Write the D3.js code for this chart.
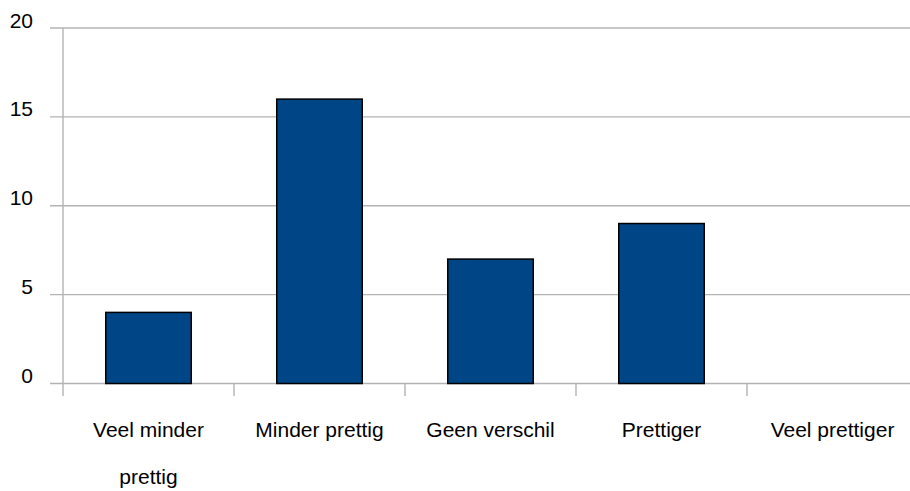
<!DOCTYPE html>
<html>
<head>
<meta charset="utf-8">
<script src="https://cdn.jsdelivr.net/npm/d3@7"></script>
<style>
  html, body { margin: 0; padding: 0; background: #fff; }
  svg { display: block; font-family: "Liberation Sans", Arial, sans-serif; }
</style>
</head>
<body>
<svg id="chart" width="910" height="491"></svg>
<script>
const categories = ["Veel minder prettig", "Minder prettig", "Geen verschil", "Prettiger", "Veel prettiger"];
const values = [4, 16, 7, 9, 0];
const yTicks = [0, 5, 10, 15, 20];

(function () {
const svg = d3.select("#chart");
const W = 910, H = 491;
const plotLeft = 63, plotRight = 918, plotTop = 28, plotBottom = 383.5;

const x = d3.scaleBand().domain(categories).range([plotLeft, plotRight]).paddingInner(0.5).paddingOuter(0.25);
const y = d3.scaleLinear().domain([0, 20]).range([plotBottom, plotTop]);

const grid = "#b3b3b3";

// gridlines
svg.append("g").selectAll("line").data(yTicks).join("line")
  .attr("x1", 50).attr("x2", W)
  .attr("y1", d => y(d)).attr("y2", d => y(d))
  .attr("stroke", grid).attr("stroke-width", 1.4);

// y labels
svg.append("g").selectAll("text").data(yTicks).join("text")
  .attr("x", 33).attr("y", d => y(d) - 0.5)
  .attr("text-anchor", "end")
  .attr("font-size", 21).attr("fill", "#000")
  .text(d => d);

// y axis line
svg.append("line").attr("x1", plotLeft).attr("x2", plotLeft).attr("y1", plotTop).attr("y2", 396)
  .attr("stroke", grid).attr("stroke-width", 1.4);

// category boundary ticks
const step = x.step();
const bounds = d3.range(1, categories.length + 1).map(i => plotLeft + i * step);
svg.append("g").selectAll("line").data(bounds).join("line")
  .attr("x1", d => d).attr("x2", d => d).attr("y1", plotBottom).attr("y2", 396)
  .attr("stroke", grid).attr("stroke-width", 1.4);

// bars
svg.append("g").selectAll("rect").data(categories.map((c, i) => ({c, v: values[i]})).filter(d => d.v > 0)).join("rect")
  .attr("x", d => x(d.c)).attr("width", x.bandwidth())
  .attr("y", d => y(d.v)).attr("height", d => y(0) - y(d.v))
  .attr("fill", "#004586").attr("stroke", "#000").attr("stroke-width", 1.5);

// category labels with wrapping
const labels = svg.append("g").selectAll("text").data(categories).join("text")
  .attr("x", d => x(d) + x.bandwidth() / 2)
  .attr("y", 437)
  .attr("text-anchor", "middle")
  .attr("font-size", 21).attr("fill", "#000");

labels.each(function(d) {
  const t = d3.select(this);
  const words = d.split(" ");
  const maxW = step - 4;
  let line = [];
  let lines = [];
  const probe = t.append("tspan");
  words.forEach(w => {
    const test = line.concat([w]).join(" ");
    probe.text(test);
    if (probe.node().getComputedTextLength() > maxW && line.length) {
      lines.push(line.join(" "));
      line = [w];
    } else {
      line.push(w);
    }
  });
  lines.push(line.join(" "));
  probe.remove();
  const cx = x(d) + x.bandwidth() / 2;
  lines.forEach((l, i) => {
    t.append("tspan").attr("x", cx).attr("dy", i === 0 ? 0 : 47).text(l);
  });
});
})();
</script>
</body>
</html>
